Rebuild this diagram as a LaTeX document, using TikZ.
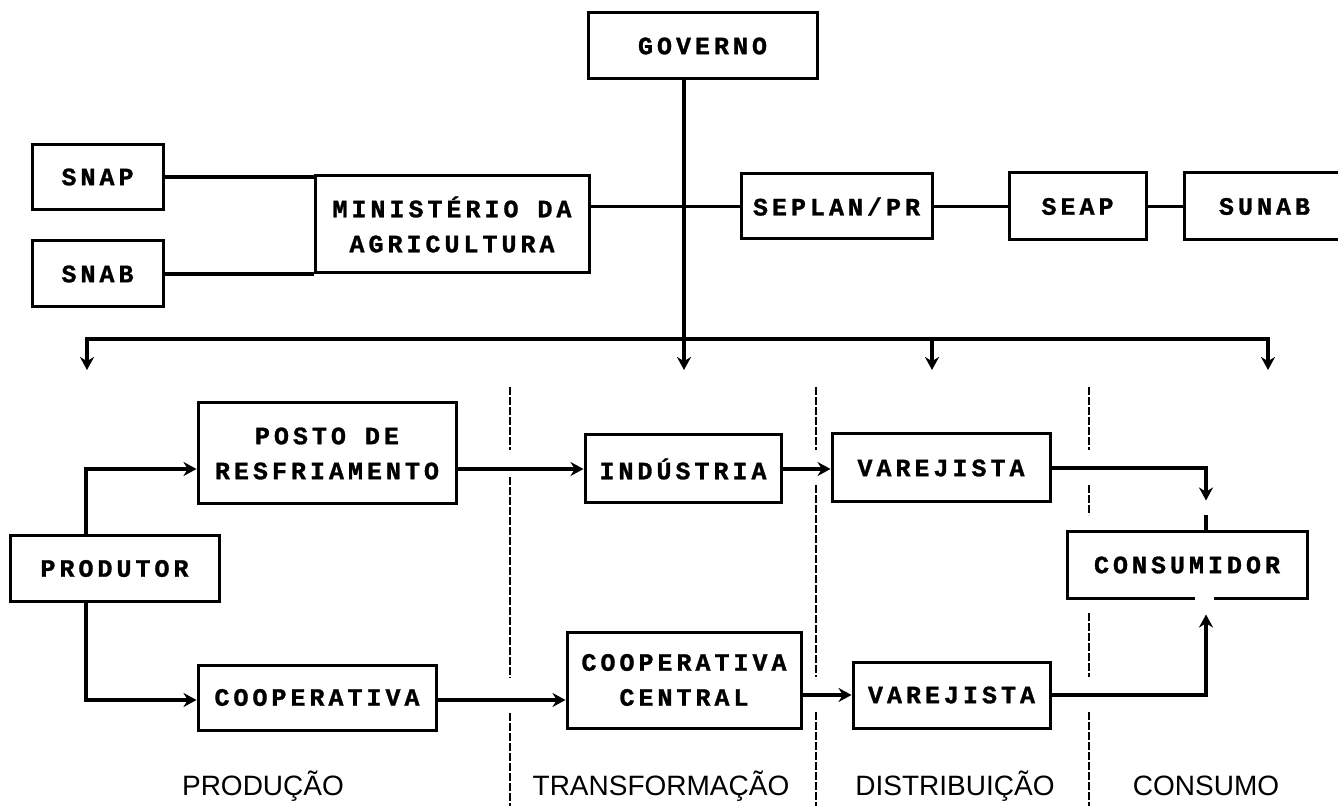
\documentclass[tikz,border=0pt]{standalone}
\usepackage{fontspec}
\newfontfamily\boxfont[LetterSpace=16,BoldFeatures={FakeBold=1.2}]{Liberation Mono}
\newfontfamily\labfont{Liberation Sans}
\usetikzlibrary{arrows.meta,calc}
\begin{document}
\begin{tikzpicture}[x=0.5pt,y=-0.5pt,
  box/.style={draw,line width=1.5pt,inner sep=0pt,align=center,font=\boxfont\bfseries\fontsize{12.5}{17.5}\selectfont},
  conn/.style={line width=1.6pt},
  arr/.style={conn,-{Stealth[length=6.5pt,width=7pt]}},
  div/.style={line width=0.7pt,dash pattern=on 4pt off 1pt},
  lab/.style={font=\labfont\fontsize{14}{16}\selectfont}]
\useasboundingbox (0,0) rectangle (1338,806);
% boxes
\node[box,minimum width=114.5pt,minimum height=33pt] (gov) at (702.5,46) {GOVERNO};
\node[box,minimum width=65.5pt,minimum height=32.5pt] (snap) at (97.5,177) {SNAP};
\node[box,minimum width=65.5pt,minimum height=33pt] (snab) at (97.5,274) {SNAB};
\node[box,minimum width=137pt,minimum height=48.5pt] (min) at (452,224.5) {MINISTÉRIO DA\\AGRICULTURA};
\node[box,minimum width=95.5pt,minimum height=32.5pt] (seplan) at (836.5,206.5) {SEPLAN/PR};
\node[box,minimum width=68.5pt,minimum height=33.5pt] (seap) at (1077.5,206.5) {SEAP};
\node[box,minimum width=80.5pt,minimum height=33.5pt] (sunab) at (1264.5,206.5) {SUNAB};
\node[box,minimum width=129pt,minimum height=50.5pt] (posto) at (327,453.5) {POSTO DE\\RESFRIAMENTO};
\node[box,minimum width=104.5pt,minimum height=32.5pt] (prod) at (114.5,568.5) {PRODUTOR};
\node[box,minimum width=119pt,minimum height=32.5pt] (coop) at (317,697.5) {COOPERATIVA};
\node[box,minimum width=98pt,minimum height=34pt] (ind) at (683,469) {INDÚSTRIA};
\node[box,minimum width=117pt,minimum height=48pt] (cen) at (684,680) {COOPERATIVA\\CENTRAL};
\node[box,minimum width=109pt,minimum height=34pt] (var1) at (941,468) {VAREJISTA};
\node[box,minimum width=98.5pt,minimum height=33pt] (var2) at (951.5,695) {VAREJISTA};
\node[box,minimum width=120pt,minimum height=33pt] (cons) at (1187,565) {CONSUMIDOR};
% upper connectors
\draw[conn] (snap.east) -- (snap.east -| min.west);
\draw[conn] (snab.east) -- (snab.east -| min.west);
\draw[conn] (seplan.west -| min.east) -- (seplan.west);
\draw[conn] (seplan.east) -- (seap.west);
\draw[conn] (seap.east) -- (sunab.west);
% government bus
\coordinate (g0) at ($(gov.south)+(-18.5,0)$);
\coordinate (t1) at (87,370);
\coordinate (t3) at (932,370);
\coordinate (t4) at (1268,370);
\coordinate (t2) at (g0 |- t1);
\coordinate (b1) at (87,339);
\coordinate (b3) at (932,339);
\coordinate (b4) at (1268,339);
\draw[arr] (g0) -- (t2);
\draw[arr] (b3) -- (b1) -- (t1);
\draw[arr] (b3) -- (b4) -- (t4);
\draw[arr] (b3) -- (t3);
% flow
\coordinate (p1) at ($(posto.east)+(0,15.5)$);
\coordinate (c1) at ($(coop.east)+(0,2.5)$);
\draw[arr] ($(prod.north)+(-28.5,0)$) |- ($(posto.west)+(0,15.5)$);
\draw[arr] ($(prod.south)+(-28.5,0)$) |- ($(coop.west)+(0,2.5)$);
\draw[arr] (p1) -- (p1 -| ind.west);
\draw[arr] (c1) -- (c1 -| cen.west);
\draw[arr] (ind.east) -- (ind.east -| var1.west);
\draw[arr] (var2.west -| cen.east) -- (var2.west);
\coordinate (ctop) at ($(cons.north)+(19,-30)$);
\coordinate (cbot) at ($(cons.south)+(19,15)$);
\draw[arr] (var1.east) -| (ctop);
\draw[arr] (var2.east) -| (cbot);
\draw[conn] ($(cons.north)+(19,0)$) -- ($(cons.north)+(19,-15)$);
\fill[white] ($(cons.south)+(8,-6)$) rectangle ($(cons.south)+(27,6)$);
% dividers
\draw[div] (510,387) -- (510,450) (510,477) -- (510,678) (510,713) -- (510,806);
\draw[div] (816,387) -- (816,450) (816,485) -- (816,677) (816,712) -- (816,806);
\draw[div] (1089,387) -- (1089,450) (1089,485) -- (1089,515) (1089,613) -- (1089,677) (1089,712) -- (1089,806);
% stage labels
\node[lab] (l1) at (263,786) {PRODUÇÃO};
\node[lab] (l2) at (661,786) {TRANSFORMAÇÃO};
\node[lab] (l3) at (955,786) {DISTRIBUIÇÃO};
\node[lab] (l4) at (1206,786) {CONSUMO};
\end{tikzpicture}
\end{document}
